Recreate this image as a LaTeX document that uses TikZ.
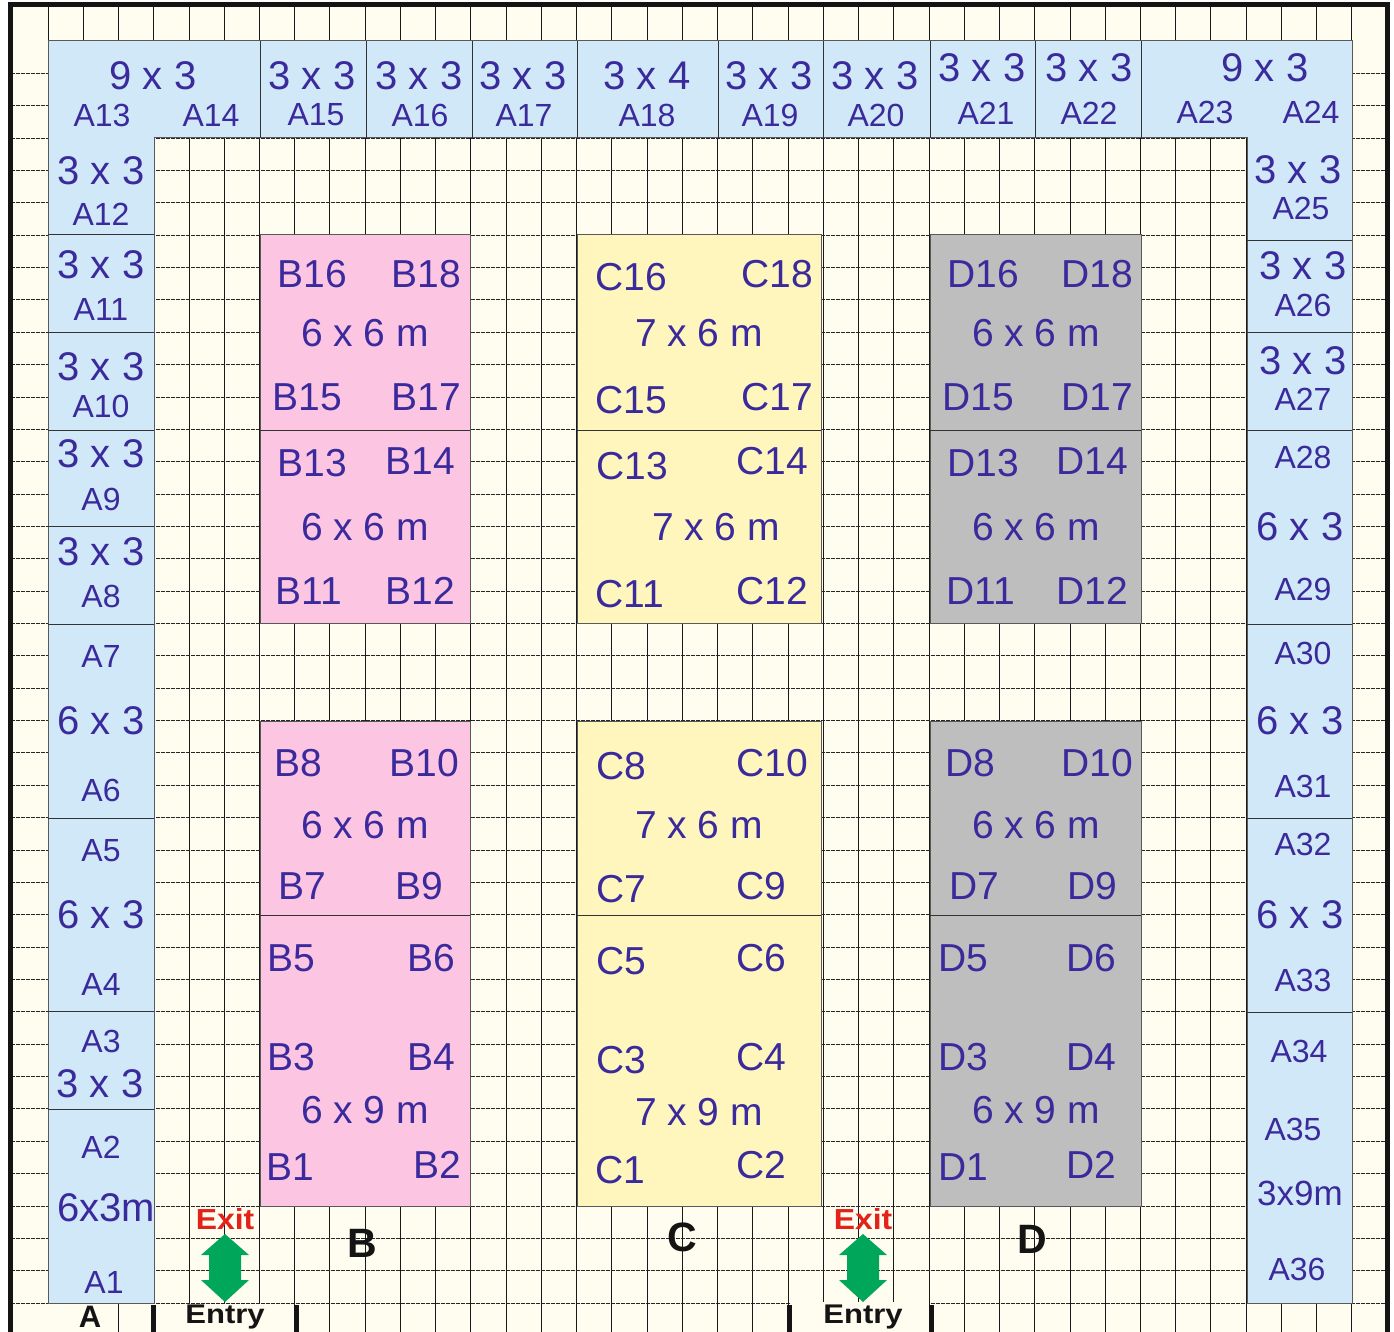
\documentclass[tikz,border=0pt]{standalone}
\usepackage{fontspec}
\setmainfont{Liberation Sans}
\usepackage{tikz}
\definecolor{paper}{HTML}{FFFDF0}
\definecolor{stallblue}{HTML}{D0E8F7}
\definecolor{stallpink}{HTML}{FCC6E3}
\definecolor{stallyellow}{HTML}{FFF6BE}
\definecolor{stallgray}{HTML}{BEBEBE}
\definecolor{ink}{HTML}{3A2A9C}
\definecolor{exitred}{HTML}{E2231A}
\definecolor{arrowgreen}{HTML}{00A65A}
\definecolor{framecol}{HTML}{141414}
\tikzstyle{gridv} = [draw=black!90, line width=0.9pt]
\tikzstyle{gridh} = [draw=black!85, line width=0.9pt, dash pattern=on 2pt off 0.5pt]
\tikzstyle{zone} = [draw=black!65, line width=1pt]
\tikzstyle{divider} = [draw=black!80, line width=1pt]
\tikzstyle{tick} = [draw=framecol, line width=5pt]
\tikzstyle{dimtext} = [text=ink, font=\fontsize{40}{40}\selectfont, inner sep=0pt]
\tikzstyle{stalltext} = [text=ink, font=\fontsize{32}{32}\selectfont, inner sep=0pt]
\tikzstyle{blocktext} = [text=ink, font=\fontsize{39}{39}\selectfont, inner sep=0pt]
\tikzstyle{rowtext} = [text=framecol, font=\bfseries\fontsize{41}{41}\selectfont, inner sep=0pt]
\tikzstyle{doortext} = [text=framecol, font=\bfseries\fontsize{27}{27}\selectfont, inner sep=0pt]
\tikzstyle{exittext} = [text=exitred, font=\bfseries\fontsize{29}{29}\selectfont, inner sep=0pt]
\begin{document}
\begin{tikzpicture}[x=1pt, y=-1pt]
	\useasboundingbox (0,0) rectangle (1394,1332);
	\fill[paper] (10,4) rectangle (1388,1332);

	% grid
	\foreach \k in {0,...,37}
		\path[gridv] ({48+35.24*\k},7) -- ({48+35.24*\k},1303);
	\foreach \k in {1,...,39}
		\path[gridh] (13,{41+32.36*\k}) -- (1385,{41+32.36*\k});
	\foreach \k in {2,7,8,...,21,25,26,...,37}
		\path[gridv] ({48+35.24*\k},1303) -- ({48+35.24*\k},1332);
	\fill[paper] (791,1301.5) rectangle (929,1304.5);

	% outer frame
	\path[draw=framecol, line width=5pt] (10.5,1332) -- (10.5,4.5) -- (1387.5,4.5) -- (1387.5,1332);
	\foreach \x in {153,296,789,931}
		\path[tick] (\x,1305) -- (\x,1332);

	% stalls round the hall
	\path[zone, fill=stallblue] (48,41) -- (1352,41) -- (1352,1303) -- (1247,1303) -- (1247,138)
		-- (154,138) -- (154,1303) -- (48,1303) -- cycle;
	\foreach \x in {260,366,472,577,718,823,930,1035,1141}
		\path[divider] (\x,41) -- (\x,138);
	\foreach \y in {235,332,430,526,624,818,1011,1109}
		\path[divider] (48,\y) -- (154,\y);
	\foreach \y in {241,332,430,624,818,1012}
		\path[divider] (1247,\y) -- (1352,\y);

	% blocks
	\foreach \xa/\xb/\col in {260/470/stallpink, 577/821/stallyellow, 930/1141/stallgray} {
		\path[zone, fill=\col] (\xa,235) rectangle (\xb,623);
		\path[zone, fill=\col] (\xa,721) rectangle (\xb,1206);
		\path[divider] (\xa,430) -- (\xb,430);
		\path[divider] (\xa,915) -- (\xb,915);
	}

	% sizes of the outer stalls
	\foreach \x/\y/\t [count=\i] in {153/76/9 x 3, 312/76/3 x 3, 419/76/3 x 3, 523/76/3 x 3, 647/76/3 x 4,
		769/76/3 x 3, 875/76/3 x 3, 982/68/3 x 3, 1089/68/3 x 3, 1265/68/9 x 3,
		101/171/3 x 3, 101/265/3 x 3, 101/367/3 x 3, 101/454/3 x 3, 101/552/3 x 3,
		101/721/6 x 3, 101/915/6 x 3, 100/1084/3 x 3, 106/1208/6x3m,
		1298/170/3 x 3, 1303/266/3 x 3, 1303/361/3 x 3, 1300/527/6 x 3, 1300/721/6 x 3, 1300/915/6 x 3}
		\node [dimtext] (sizeA\i) at (\x,\y) {\t};
	\node [stalltext, font=\fontsize{35}{35}\selectfont] (sizeA26) at (1300,1193) {3x9m};

	% outer stall numbers
	\foreach \x/\y/\t in {104/1282/A1, 101/1147/A2, 101/1041/A3, 101/984/A4, 101/851/A5, 101/790/A6,
		101/656/A7, 101/596/A8, 101/499/A9, 101/406/A10, 101/309/A11, 101/214/A12,
		102/115/A13, 211/115/A14, 316/115/A15, 420/115/A16, 524/115/A17, 647/115/A18,
		770/115/A19, 876/115/A20, 986/113/A21, 1089/113/A22, 1205/112/A23, 1311/112/A24,
		1301/208/A25, 1303/305/A26, 1303/399/A27, 1303/457/A28, 1303/589/A29, 1303/653/A30,
		1303/786/A31, 1303/844/A32, 1303/980/A33, 1299/1051/A34, 1293/1129/A35, 1297/1269/A36}
		\node [stalltext] (\t) at (\x,\y) {\t};

	% block sizes
	\foreach \x/\y/\t [count=\i] in {365/333/6 x 6 m, 365/527/6 x 6 m, 365/825/6 x 6 m, 365/1110/6 x 9 m,
		699/333/7 x 6 m, 716/527/7 x 6 m, 699/825/7 x 6 m, 699/1112/7 x 9 m,
		1036/333/6 x 6 m, 1036/527/6 x 6 m, 1036/825/6 x 6 m, 1036/1110/6 x 9 m}
		\node [blocktext] (sizeblock\i) at (\x,\y) {\t};

	% block stall numbers
	\foreach \x/\y/\t in {290/1167/B1, 437/1165/B2, 291/1057/B3, 431/1057/B4, 291/958/B5, 431/958/B6,
		302/886/B7, 298/763/B8, 419/886/B9, 424/763/B10, 309/591/B11, 420/591/B12,
		312/463/B13, 420/461/B14, 307/397/B15, 312/274/B16, 426/397/B17, 426/274/B18,
		620/1170/C1, 761/1165/C2, 621/1060/C3, 761/1057/C4, 621/961/C5, 761/958/C6,
		621/889/C7, 621/766/C8, 761/886/C9, 772/763/C10, 630/594/C11, 772/591/C12,
		632/466/C13, 772/461/C14, 631/400/C15, 631/277/C16, 777/397/C17, 777/274/C18,
		963/1167/D1, 1091/1165/D2, 963/1057/D3, 1091/1057/D4, 963/958/D5, 1091/958/D6,
		974/886/D7, 970/763/D8, 1092/886/D9, 1097/763/D10, 981/591/D11, 1092/591/D12,
		983/463/D13, 1092/461/D14, 978/397/D15, 983/274/D16, 1097/397/D17, 1097/274/D18}
		\node [blocktext] (\t) at (\x,\y) {\t};

	% row letters
	\node [rowtext, font=\bfseries\fontsize{31}{31}\selectfont] (rowA) at (90,1317) {A};
	\node [rowtext] (rowB) at (362,1243) {B};
	\node [rowtext] (rowC) at (682,1237) {C};
	\node [rowtext] (rowD) at (1032,1239) {D};

	% doors
	\foreach \x/\n in {225/left, 863/right} {
		\node [exittext] (exit\n) at (\x,1219) {\scalebox{1.1}[1]{Exit}};
		\node [doortext] (entry\n) at (\x,1317) {\scalebox{1.15}[1]{Entry}};
		\fill[arrowgreen] (\x,1234) -- (\x+24,1255) -- (\x+16,1255) -- (\x+16,1280) -- (\x+24,1280)
			-- (\x,1302) -- (\x-24,1280) -- (\x-16,1280) -- (\x-16,1255) -- (\x-24,1255) -- cycle;
	}
\end{tikzpicture}
\end{document}
